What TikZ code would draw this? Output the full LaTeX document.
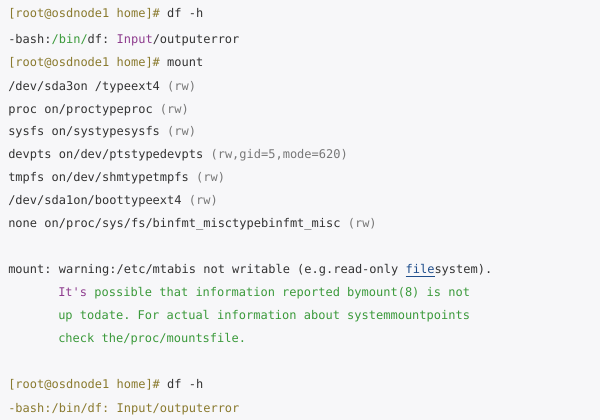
\documentclass[tikz,border=0pt]{standalone}
\usepackage{fontspec}
\setmonofont{DejaVu Sans Mono}
\definecolor{bgc}{HTML}{F7F7F9}
\definecolor{txt}{HTML}{333333}
\definecolor{prm}{HTML}{8A7A2E}
\definecolor{grn}{HTML}{3B9A3B}
\definecolor{pur}{HTML}{8E3C8E}
\definecolor{gry}{HTML}{777777}
\definecolor{lnk}{HTML}{1F4E8C}
\tikzset{
  line/.style={anchor=base west, inner sep=0pt, font=\ttfamily\fontsize{9pt}{10pt}\selectfont, text=txt},
}
\newcommand{\prompt}{\textcolor{prm}{[root@osdnode1 home]\#}}
\newcommand{\rw}[1]{\textcolor{gry}{(#1)}}
\begin{document}
\begin{tikzpicture}[x=0.75pt,y=-0.75pt]
% Background
\fill[bgc] (0,0) rectangle (600,420);

% Session lines
\node[line] (l1) at (8,18) {\prompt{} df -h};
\node[line] (l2) at (8,44) {-bash:\textcolor{grn}{/bin/}df: \textcolor{pur}{Input}/outputerror};
\node[line] (l3) at (8,67) {\prompt{} mount};
\node[line] (l4) at (8,91) {/dev/sda3on /typeext4 \rw{rw}};
\node[line] (l5) at (8,114) {proc on/proctypeproc \rw{rw}};
\node[line] (l6) at (8,136) {sysfs on/systypesysfs \rw{rw}};
\node[line] (l7) at (8,159) {devpts on/dev/ptstypedevpts \rw{rw,gid=5,mode=620}};
\node[line] (l8) at (8,182) {tmpfs on/dev/shmtypetmpfs \rw{rw}};
\node[line] (l9) at (8,205) {/dev/sda1on/boottypeext4 \rw{rw}};
\node[line] (l10) at (8,228) {none on/proc/sys/fs/binfmt\_misctypebinfmt\_misc \rw{rw}};

% Warning block
\node[line] (w1) at (8,274) {mount: warning:/etc/mtabis not writable (e.g.read-only \textcolor{lnk}{\underline{file}}system).};
\node[line, text=grn] (w2) at (58,297) {\textcolor{pur}{It's} possible that information reported bymount(8) is not};
\node[line, text=grn] (w3) at (58,320) {up todate. For actual information about systemmountpoints};
\node[line, text=grn] (w4) at (58,343) {check the/proc/mountsfile.};

% Repeated command
\node[line] (r1) at (8,388) {\prompt{} df -h};
\node[line, text=prm] (r2) at (8,412) {-bash:/bin/df: Input/outputerror};
\end{tikzpicture}
\end{document}
